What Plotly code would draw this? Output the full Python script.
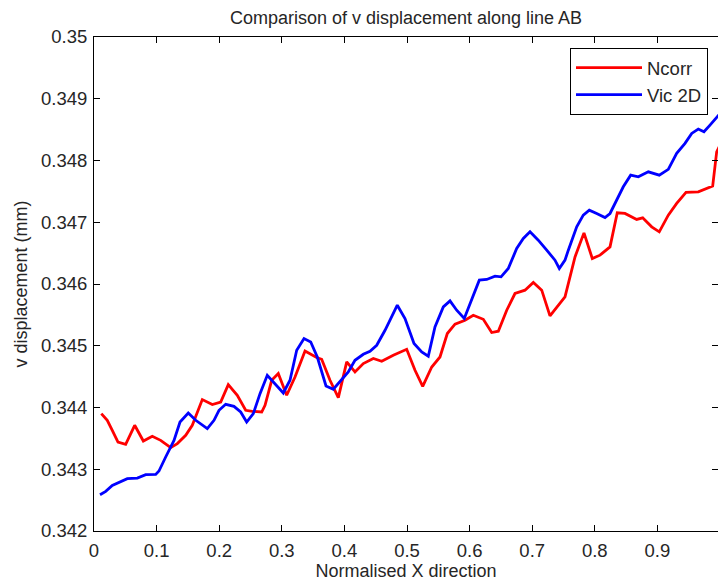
import plotly.graph_objects as go

# Ncorr profile along line AB
ncorr_x = [0.0117, 0.0212, 0.0292, 0.0383, 0.0506, 0.0650, 0.0788, 0.0931, 0.1065, 0.1225,
           0.1331, 0.1465, 0.1570, 0.1730, 0.1890, 0.2024, 0.2145, 0.2289, 0.2423, 0.2529,
           0.2679, 0.2732, 0.2839, 0.2944, 0.3078, 0.3211, 0.3371, 0.3557, 0.3637, 0.3770,
           0.3903, 0.4037, 0.4169, 0.4302, 0.4462, 0.4596, 0.4781, 0.4995, 0.5128, 0.5251,
           0.5395, 0.5527, 0.5644, 0.5767, 0.5927, 0.6059, 0.6219, 0.6353, 0.6459, 0.6593,
           0.6725, 0.6885, 0.7018, 0.7152, 0.7284, 0.7391, 0.7524, 0.7684, 0.7827, 0.7960,
           0.8083, 0.8243, 0.8359, 0.8482, 0.8669, 0.8765, 0.8909, 0.9030, 0.9174, 0.9308,
           0.9457, 0.9653, 0.9813, 0.9883, 0.9947, 1.0000]
ncorr_v = [0.343901, 0.343793, 0.343630, 0.343441, 0.343404, 0.343712, 0.343457, 0.343533, 0.343468, 0.343350,
           0.343415, 0.343549, 0.343712, 0.344128, 0.344047, 0.344089, 0.344371, 0.344198, 0.343955, 0.343938,
           0.343927, 0.344036, 0.344441, 0.344549, 0.344198, 0.344494, 0.344916, 0.344809, 0.344781, 0.344441,
           0.344160, 0.344738, 0.344575, 0.344712, 0.344793, 0.344749, 0.344846, 0.344943, 0.344603, 0.344343,
           0.344656, 0.344818, 0.345198, 0.345349, 0.345413, 0.345494, 0.345429, 0.345214, 0.345235, 0.345575,
           0.345846, 0.345900, 0.346024, 0.345900, 0.345483, 0.345629, 0.345791, 0.346439, 0.346828, 0.346413,
           0.346467, 0.346601, 0.347153, 0.347142, 0.347045, 0.347071, 0.346926, 0.346845, 0.347115, 0.347305,
           0.347483, 0.347493, 0.347548, 0.347585, 0.348141, 0.348250]

# Vic 2D profile along line AB
vic_x = [0.0096, 0.0187, 0.0292, 0.0399, 0.0532, 0.0692, 0.0826, 0.0986, 0.1038, 0.1145,
         0.1278, 0.1374, 0.1506, 0.1625, 0.1810, 0.1917, 0.1997, 0.2104, 0.2236, 0.2343,
         0.2439, 0.2545, 0.2652, 0.2768, 0.2891, 0.3024, 0.3131, 0.3238, 0.3355, 0.3462,
         0.3567, 0.3706, 0.3823, 0.3930, 0.4062, 0.4169, 0.4302, 0.4409, 0.4516, 0.4649,
         0.4845, 0.4968, 0.5112, 0.5235, 0.5340, 0.5447, 0.5580, 0.5687, 0.5794, 0.5915,
         0.6034, 0.6155, 0.6273, 0.6406, 0.6502, 0.6618, 0.6752, 0.6858, 0.6965, 0.7097,
         0.7232, 0.7364, 0.7433, 0.7524, 0.7577, 0.7711, 0.7816, 0.7912, 0.8030, 0.8163,
         0.8243, 0.8350, 0.8455, 0.8573, 0.8695, 0.8855, 0.9030, 0.9174, 0.9308, 0.9441,
         0.9548, 0.9653, 0.9744, 0.9840, 0.9947, 1.0000]
vic_v = [0.342588, 0.342642, 0.342739, 0.342783, 0.342847, 0.342857, 0.342912, 0.342917, 0.342971, 0.343198,
         0.343468, 0.343765, 0.343911, 0.343793, 0.343658, 0.343793, 0.343955, 0.344052, 0.344019, 0.343927,
         0.343765, 0.343900, 0.344225, 0.344522, 0.344387, 0.344235, 0.344441, 0.344927, 0.345117, 0.345062,
         0.344818, 0.344349, 0.344295, 0.344413, 0.344575, 0.344765, 0.344862, 0.344911, 0.345008, 0.345251,
         0.345656, 0.345441, 0.345036, 0.344900, 0.344830, 0.345305, 0.345629, 0.345726, 0.345575, 0.345441,
         0.345737, 0.346062, 0.346073, 0.346126, 0.346115, 0.346251, 0.346575, 0.346737, 0.346845, 0.346710,
         0.346548, 0.346386, 0.346251, 0.346386, 0.346548, 0.346926, 0.347115, 0.347196, 0.347142, 0.347077,
         0.347142, 0.347358, 0.347574, 0.347763, 0.347736, 0.347817, 0.347763, 0.347856, 0.348115, 0.348277,
         0.348439, 0.348509, 0.348465, 0.348574, 0.348699, 0.348760]

x_ticks = [0, 0.1, 0.2, 0.3, 0.4, 0.5, 0.6, 0.7, 0.8, 0.9, 1]
x_tick_text = ["0", "0.1", "0.2", "0.3", "0.4", "0.5", "0.6", "0.7", "0.8", "0.9", "1"]
y_ticks = [0.342, 0.343, 0.344, 0.345, 0.346, 0.347, 0.348, 0.349, 0.35]
y_tick_text = ["0.342", "0.343", "0.344", "0.345", "0.346", "0.347", "0.348", "0.349", "0.35"]

FONT = "Liberation Sans, Arial, sans-serif"
INK = "#262626"

fig = go.Figure()
fig.add_trace(go.Scatter(x=ncorr_x, y=ncorr_v, mode="lines", name="Ncorr",
                         line=dict(color="#ff0000", width=2.8)))
fig.add_trace(go.Scatter(x=vic_x, y=vic_v, mode="lines", name="Vic 2D",
                         line=dict(color="#0000ff", width=2.8)))

axis_common = dict(
    showline=True, linecolor="black", linewidth=1, mirror="ticks",
    ticks="inside", ticklen=6, tickcolor="black", tickwidth=1,
    showgrid=False, zeroline=False,
    tickfont=dict(family=FONT, size=18.5, color=INK),
)

fig.update_layout(
    width=718, height=582,
    margin=dict(l=94, r=0, t=37, b=51),
    paper_bgcolor="white", plot_bgcolor="white",
    font=dict(family=FONT, color=INK),
    title=dict(text="Comparison of v displacement along line AB",
               font=dict(family=FONT, size=18, color=INK),
               x=0.5, xref="paper", xanchor="center",
               y=1 - 18 / 582, yref="container", yanchor="middle"),
    xaxis=dict(range=[0, 624 / 626], tickvals=x_ticks, ticktext=x_tick_text,
               title=dict(text="Normalised X direction", standoff=2,
                          font=dict(family=FONT, size=18, color=INK)),
               ticklabelstandoff=3, **axis_common),
    yaxis=dict(range=[0.342, 0.35], tickvals=y_ticks, ticktext=y_tick_text,
               title=dict(text="v displacement (mm)", standoff=8,
                          font=dict(family=FONT, size=18, color=INK)),
               ticklabelstandoff=2, **axis_common),
    showlegend=True,
    legend=dict(x=(570 - 94) / 624, xanchor="left", y=1 - (48 - 37) / 494, yanchor="top",
                bgcolor="white", bordercolor="black", borderwidth=1,
                font=dict(family=FONT, size=18.5, color=INK),
                itemwidth=66, entrywidth=70, entrywidthmode="pixels", tracegroupgap=0),
)

fig.write_html("out.html")
